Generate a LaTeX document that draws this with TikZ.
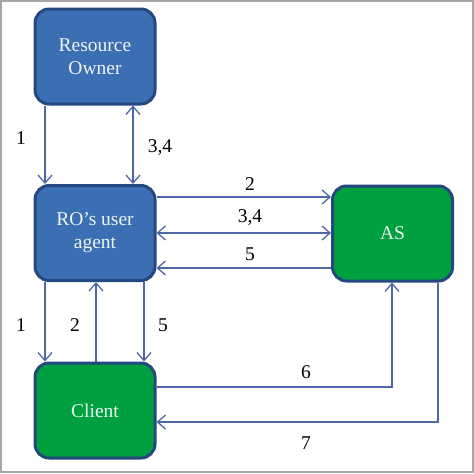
\documentclass[tikz,border=0pt]{standalone}
\usepackage{fontspec}
\setmainfont{Liberation Serif}
\usetikzlibrary{arrows.meta}
\definecolor{boxblue}{RGB}{60,110,180}
\definecolor{boxgreen}{RGB}{0,160,64}
\definecolor{edgeblue}{RGB}{38,72,128}
\definecolor{linecol}{RGB}{78,104,166}
\definecolor{boxtext}{RGB}{236,244,240}
\tikzset{
  box/.style={draw=edgeblue, line width=3pt, rounded corners=14pt,
    minimum width=120pt, minimum height=95pt, align=center,
    text=boxtext, font=\fontsize{19.5}{23}\selectfont, inner sep=0pt},
  bluebox/.style={box, fill=boxblue},
  greenbox/.style={box, fill=boxgreen},
  arr/.style={draw=linecol, line width=1.3pt, -{Straight Barb[length=8pt,width=14pt,line width=1.3pt]}},
  barr/.style={draw=linecol, line width=1.3pt, {Straight Barb[length=8pt,width=14pt,line width=1.3pt]}-{Straight Barb[length=8pt,width=14pt,line width=1.3pt]}},
  lbl/.style={font=\fontsize{19.5}{23}\selectfont, inner sep=0pt}
}
\begin{document}
\begin{tikzpicture}[x=1pt,y=-1pt]
\useasboundingbox (0,0) rectangle (474,474);
\draw[draw=gray!70, line width=2pt] (1,1) rectangle (473,472);
\node[bluebox] (RO) at (95,56.5) {Resource\\Owner};
\node[bluebox] (UA) at (95,233) {RO’s user\\agent};
\node[greenbox] (CL) at (95,410.5) {Client};
\node[greenbox] (AS) at (392.5,233.5) {AS};
% RO <-> UA
\draw[arr] (45,0 |- RO.south) -- (45,0 |- UA.north);
\draw[barr] (133,0 |- RO.south) -- (133,0 |- UA.north);
\node[lbl] (l1a) at (21,138) {1};
\node[lbl] (l34a) at (160,148) {3,4};
% UA <-> AS
\draw[arr] (UA.east |- 0,197) -- (AS.west |- 0,197);
\draw[barr] (UA.east |- 0,233) -- (AS.west |- 0,233);
\draw[arr] (AS.west |- 0,268) -- (UA.east |- 0,268);
\node[lbl] (l2b) at (250,184) {2};
\node[lbl] (l34b) at (250,218) {3,4};
\node[lbl] (l5b) at (250,254) {5};
% UA <-> Client
\draw[arr] (45,0 |- UA.south) -- (45,0 |- CL.north);
\draw[arr] (96,0 |- CL.north) -- (96,0 |- UA.south);
\draw[arr] (144,0 |- UA.south) -- (144,0 |- CL.north);
\node[lbl] (l1c) at (21,325) {1};
\node[lbl] (l2c) at (75,325) {2};
\node[lbl] (l5c) at (163,325) {5};
% Client <-> AS
\draw[arr] (CL.east |- 0,387) -| (392,0 |- AS.south);
\draw[arr] (438,0 |- AS.south) |- (CL.east |- 0,422);
\node[lbl] (l6) at (306,372) {6};
\node[lbl] (l7) at (306,443) {7};
\end{tikzpicture}
\end{document}
